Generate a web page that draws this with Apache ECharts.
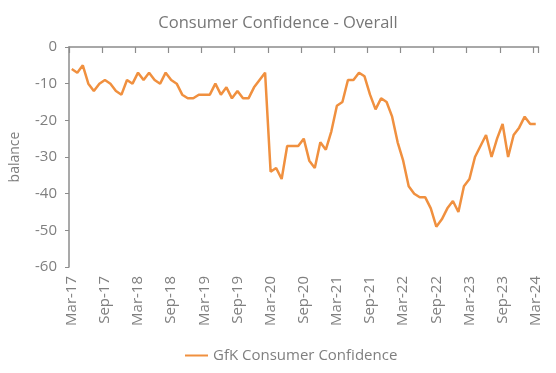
<!DOCTYPE html>
<html>
<head>
<meta charset="utf-8">
<script src="https://cdn.jsdelivr.net/npm/echarts@6/dist/echarts.min.js"></script>
<style>html,body{margin:0;padding:0;background:#fff;}#chart{width:556px;height:373px;}</style>
</head>
<body>
<div id="chart"></div>
<script>
var months = ['Jan','Feb','Mar','Apr','May','Jun','Jul','Aug','Sep','Oct','Nov','Dec'];
var categories = [];
(function(){ var y=17, m=2; for (var i=0;i<85;i++){ categories.push(months[m]+'-'+y); m++; if(m===12){m=0;y++;} } })();
var gfkValues = [
  -6,-7,-5,-10,-12,-10,-9,-10,-12,-13,
  -9,-10,-7,-9,-7,-9,-10,-7,-9,-10,-13,-14,
  -14,-13,-13,-13,-10,-13,-11,-14,-12,-14,-14,-11,
  -9,-7,-34,-33,-36,-27,-27,-27,-25,-31,-33,-26,
  -28,-23,-16,-15,-9,-9,-7,-8,-13,-17,-14,-15,
  -19,-26,-31,-38,-40,-41,-41,-44,-49,-47,-44,-42,
  -45,-38,-36,-30,-27,-24,-30,-25,-21,-30,-24,-22,
  -19,-21,-21
];
var yTicks = [0,-10,-20,-30,-40,-50,-60];
var seriesName = 'GfK Consumer Confidence';
var titleText = 'Consumer Confidence - Overall';

var font = '"Open Sans", Lato, sans-serif';
var gray = '#7f7f7f';
var chart = echarts.init(document.getElementById('chart'), null, {renderer:'canvas'});
chart.setOption({
  animation: false,
  title: { text: titleText, left: 'center', top: 10,
    textStyle: { fontFamily: font, fontSize: 16.5, fontWeight: 'normal', color: '#777' } },
  legend: { data: [seriesName], bottom: 5, left: 180, itemWidth: 23, itemHeight: 2, itemGap: 4,
    icon: 'rect',
    textStyle: { fontFamily: font, fontSize: 15, color: gray } },
  grid: { left: 65.5, right: 17.5, top: 47, bottom: 106 },
  xAxis: [
    { type: 'category', data: categories, position: 'top', boundaryGap: true,
      axisLine: { onZero: false, lineStyle: { color: '#8c8c8c', width: 1.5 } },
      axisTick: { show: true, inside: true, length: 6, interval: 5, lineStyle: { color: '#8c8c8c', width: 1.2 } },
      axisLabel: { show: false }, splitLine: { show: false } },
    { type: 'category', data: categories, position: 'bottom', boundaryGap: true,
      axisLine: { show: false, onZero: false }, axisTick: { show: false },
      axisLabel: { rotate: 90, margin: 9, interval: 5,
        fontFamily: font, fontSize: 15, color: gray } }
  ],
  yAxis: { type: 'value', min: -60, max: 0, interval: 10,
    name: 'balance', nameLocation: 'middle', nameGap: 47, nameRotate: 90,
    nameTextStyle: { fontFamily: font, fontSize: 14, color: gray },
    axisLine: { show: true, lineStyle: { color: '#8c8c8c', width: 1.5 } },
    axisTick: { show: true, length: 4, lineStyle: { color: '#8c8c8c' } },
    axisLabel: { fontFamily: font, fontSize: 15, color: gray, margin: 12 },
    splitLine: { show: false } },
  series: [{ name: seriesName, type: 'line', xAxisIndex: 0, data: gfkValues,
    symbol: 'none', lineStyle: { color: '#f0903f', width: 2.5 }, itemStyle: { color: '#f0903f' } }]
});
</script>
</body>
</html>
